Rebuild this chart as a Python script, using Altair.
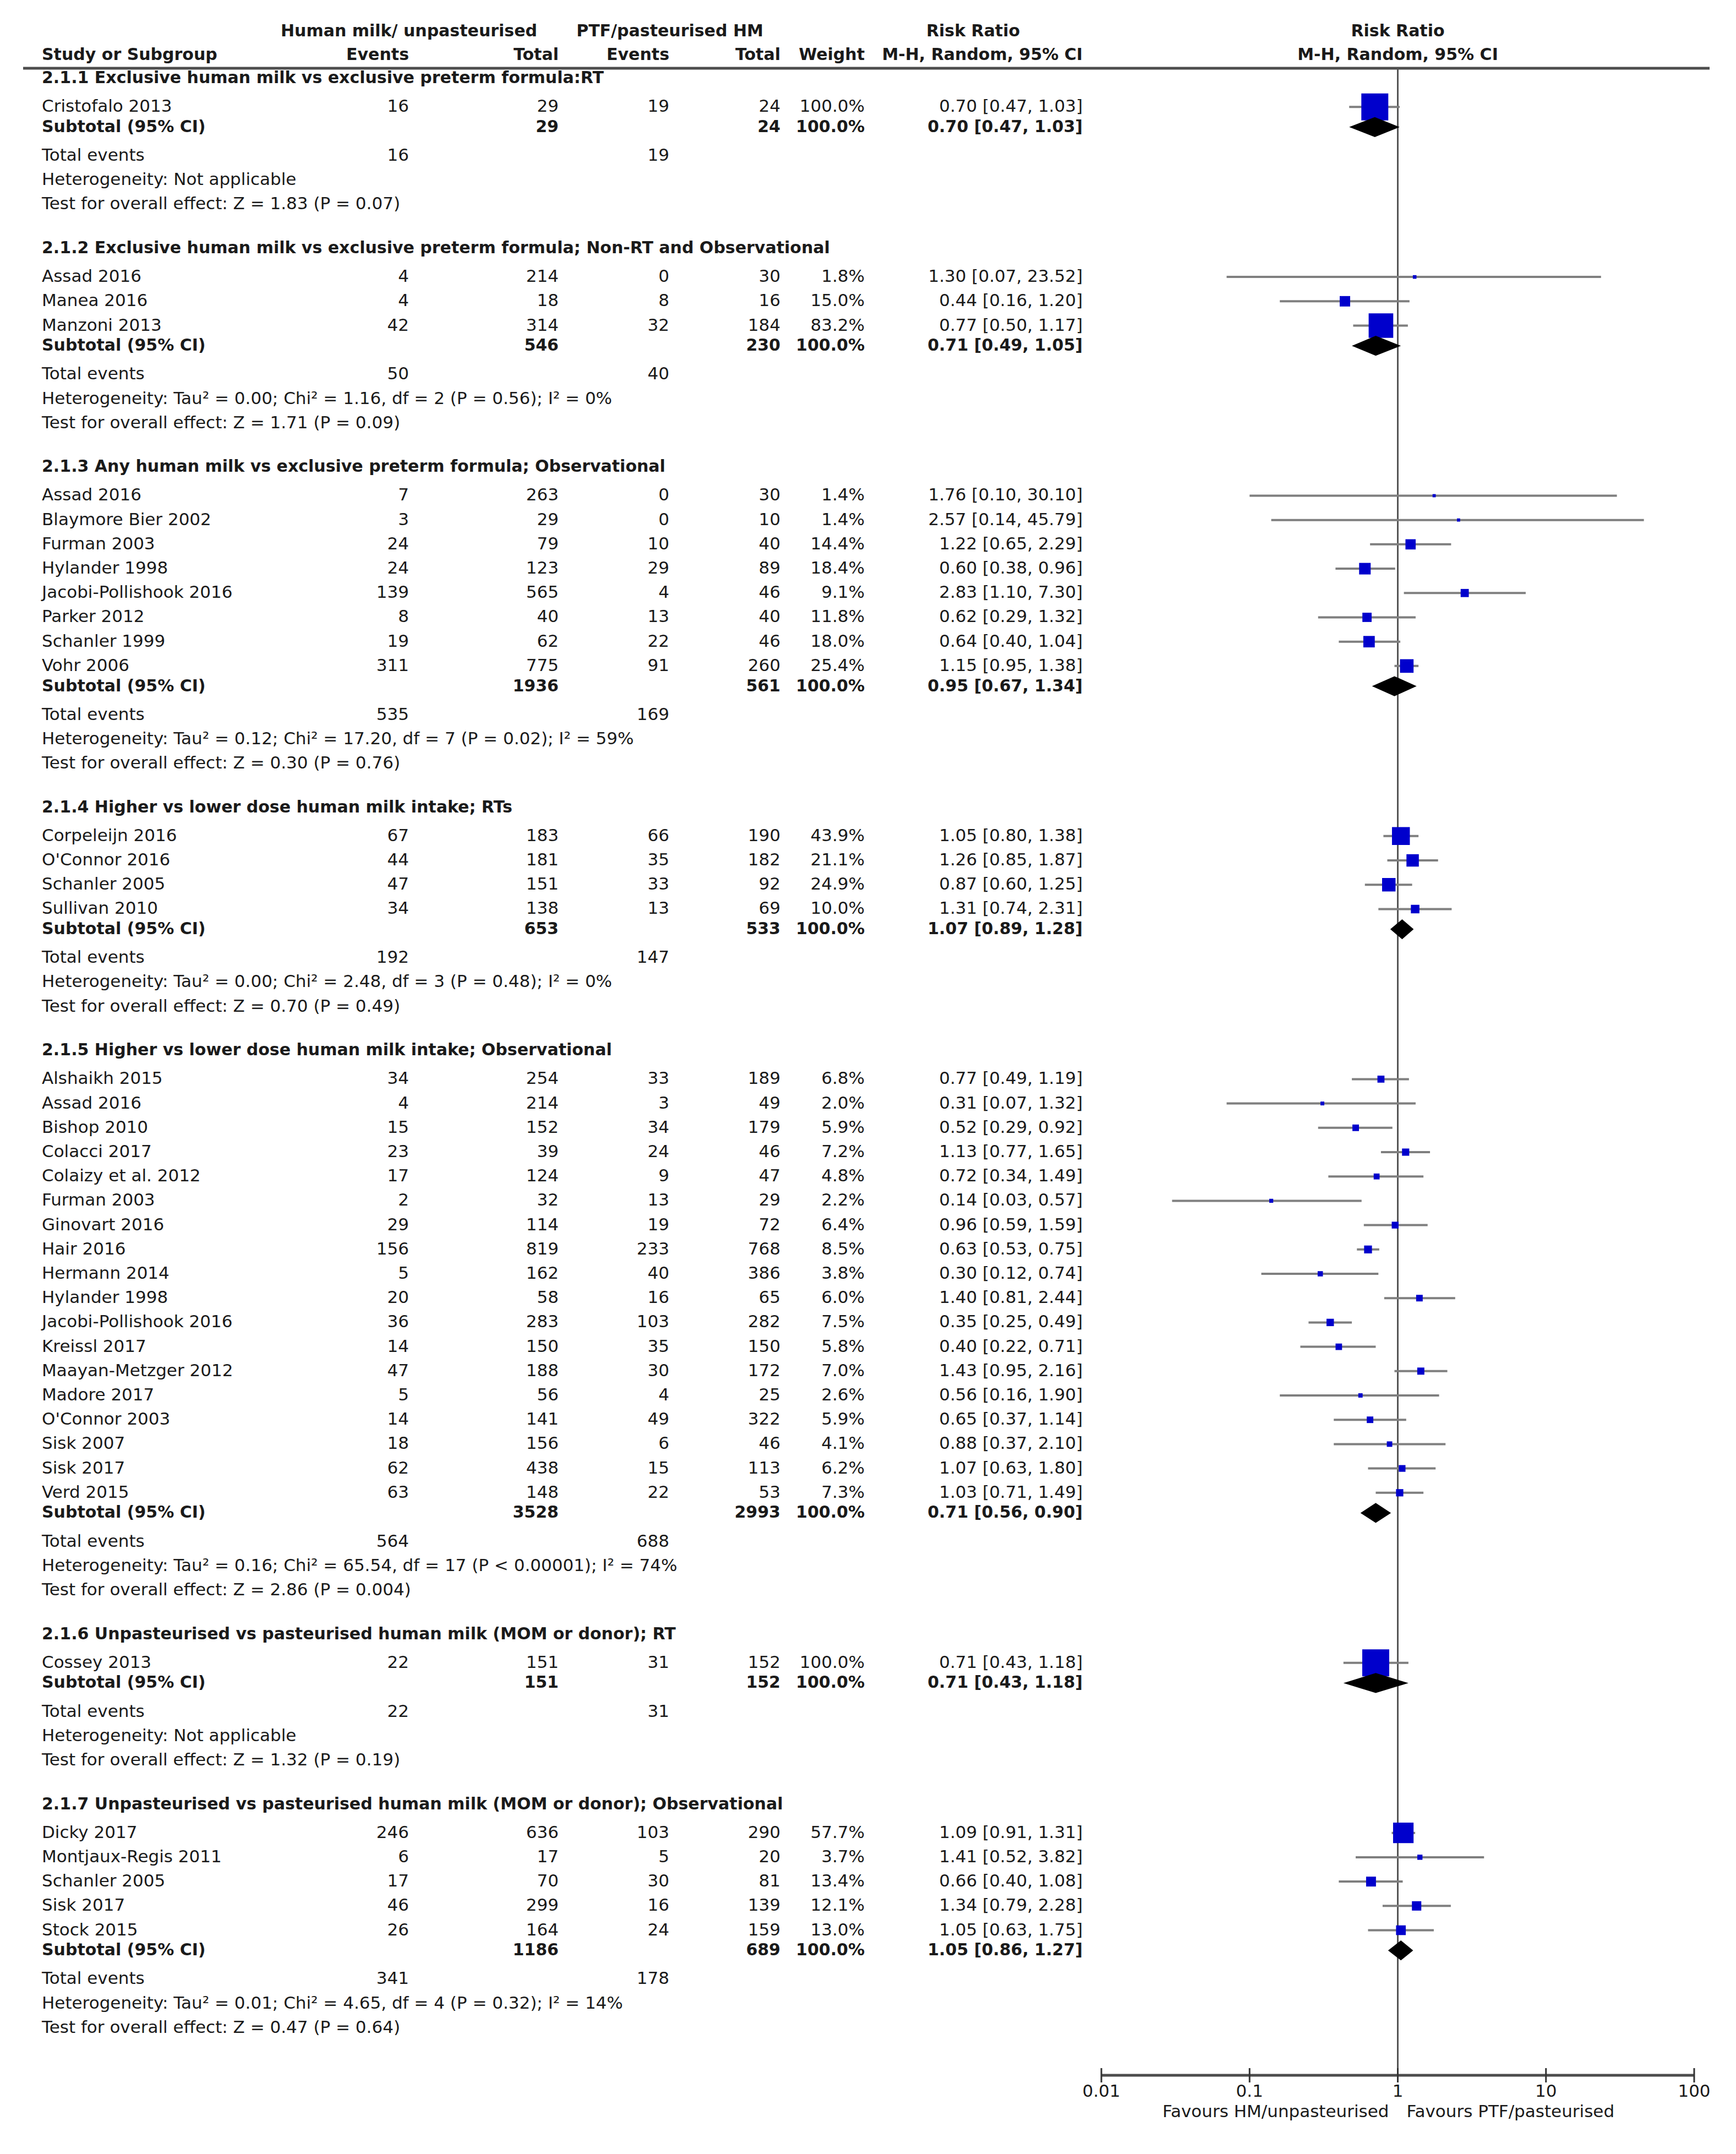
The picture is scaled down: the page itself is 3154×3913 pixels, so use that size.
import altair as alt
import pandas as pd

# ---------------- data ----------------
group_titles = [
    "2.1.1 Exclusive human milk vs exclusive preterm formula:RT",
    "2.1.2 Exclusive human milk vs exclusive preterm formula; Non-RT and Observational",
    "2.1.3 Any human milk vs exclusive preterm formula; Observational",
    "2.1.4 Higher vs lower dose human milk intake; RTs",
    "2.1.5 Higher vs lower dose human milk intake; Observational",
    "2.1.6 Unpasteurised vs pasteurised human milk (MOM or donor); RT",
    "2.1.7 Unpasteurised vs pasteurised human milk (MOM or donor); Observational",
]

study_group = [0,
               1, 1, 1,
               2, 2, 2, 2, 2, 2, 2, 2,
               3, 3, 3, 3,
               4, 4, 4, 4, 4, 4, 4, 4, 4, 4, 4, 4, 4, 4, 4, 4, 4, 4,
               5,
               6, 6, 6, 6, 6]
study_names = ["Cristofalo 2013",
               "Assad 2016", "Manea 2016", "Manzoni 2013",
               "Assad 2016", "Blaymore Bier 2002", "Furman 2003", "Hylander 1998",
               "Jacobi-Pollishook 2016", "Parker 2012", "Schanler 1999", "Vohr 2006",
               "Corpeleijn 2016", "O'Connor 2016", "Schanler 2005", "Sullivan 2010",
               "Alshaikh 2015", "Assad 2016", "Bishop 2010", "Colacci 2017", "Colaizy et al. 2012",
               "Furman 2003", "Ginovart 2016", "Hair 2016", "Hermann 2014", "Hylander 1998",
               "Jacobi-Pollishook 2016", "Kreissl 2017", "Maayan-Metzger 2012", "Madore 2017",
               "O'Connor 2003", "Sisk 2007", "Sisk 2017", "Verd 2015",
               "Cossey 2013",
               "Dicky 2017", "Montjaux-Regis 2011", "Schanler 2005", "Sisk 2017", "Stock 2015"]
hm_events = [16, 4, 4, 42, 7, 3, 24, 24, 139, 8, 19, 311, 67, 44, 47, 34,
             34, 4, 15, 23, 17, 2, 29, 156, 5, 20, 36, 14, 47, 5, 14, 18, 62, 63,
             22, 246, 6, 17, 46, 26]
hm_total = [29, 214, 18, 314, 263, 29, 79, 123, 565, 40, 62, 775, 183, 181, 151, 138,
            254, 214, 152, 39, 124, 32, 114, 819, 162, 58, 283, 150, 188, 56, 141, 156, 438, 148,
            151, 636, 17, 70, 299, 164]
ptf_events = [19, 0, 8, 32, 0, 0, 10, 29, 4, 13, 22, 91, 66, 35, 33, 13,
              33, 3, 34, 24, 9, 13, 19, 233, 40, 16, 103, 35, 30, 4, 49, 6, 15, 22,
              31, 103, 5, 30, 16, 24]
ptf_total = [24, 30, 16, 184, 30, 10, 40, 89, 46, 40, 46, 260, 190, 182, 92, 69,
             189, 49, 179, 46, 47, 29, 72, 768, 386, 65, 282, 150, 172, 25, 322, 46, 113, 53,
             152, 290, 20, 81, 139, 159]
weights = [100.0, 1.8, 15.0, 83.2, 1.4, 1.4, 14.4, 18.4, 9.1, 11.8, 18.0, 25.4,
           43.9, 21.1, 24.9, 10.0,
           6.8, 2.0, 5.9, 7.2, 4.8, 2.2, 6.4, 8.5, 3.8, 6.0, 7.5, 5.8, 7.0, 2.6, 5.9, 4.1, 6.2, 7.3,
           100.0, 57.7, 3.7, 13.4, 12.1, 13.0]
rr = [0.70, 1.30, 0.44, 0.77, 1.76, 2.57, 1.22, 0.60, 2.83, 0.62, 0.64, 1.15,
      1.05, 1.26, 0.87, 1.31,
      0.77, 0.31, 0.52, 1.13, 0.72, 0.14, 0.96, 0.63, 0.30, 1.40, 0.35, 0.40, 1.43, 0.56, 0.65, 0.88, 1.07, 1.03,
      0.71, 1.09, 1.41, 0.66, 1.34, 1.05]
rr_lo = [0.47, 0.07, 0.16, 0.50, 0.10, 0.14, 0.65, 0.38, 1.10, 0.29, 0.40, 0.95,
         0.80, 0.85, 0.60, 0.74,
         0.49, 0.07, 0.29, 0.77, 0.34, 0.03, 0.59, 0.53, 0.12, 0.81, 0.25, 0.22, 0.95, 0.16, 0.37, 0.37, 0.63, 0.71,
         0.43, 0.91, 0.52, 0.40, 0.79, 0.63]
rr_hi = [1.03, 23.52, 1.20, 1.17, 30.10, 45.79, 2.29, 0.96, 7.30, 1.32, 1.04, 1.38,
         1.38, 1.87, 1.25, 2.31,
         1.19, 1.32, 0.92, 1.65, 1.49, 0.57, 1.59, 0.75, 0.74, 2.44, 0.49, 0.71, 2.16, 1.90, 1.14, 2.10, 1.80, 1.49,
         1.18, 1.31, 3.82, 1.08, 2.28, 1.75]

sub_hm_total = [29, 546, 1936, 653, 3528, 151, 1186]
sub_ptf_total = [24, 230, 561, 533, 2993, 152, 689]
sub_rr = [0.70, 0.71, 0.95, 1.07, 0.71, 0.71, 1.05]
sub_lo = [0.47, 0.49, 0.67, 0.89, 0.56, 0.43, 0.86]
sub_hi = [1.03, 1.05, 1.34, 1.28, 0.90, 1.18, 1.27]
tot_hm_events = [16, 50, 535, 192, 564, 22, 341]
tot_ptf_events = [19, 40, 169, 147, 688, 31, 178]
heterogeneity = [
    "Heterogeneity: Not applicable",
    "Heterogeneity: Tau² = 0.00; Chi² = 1.16, df = 2 (P = 0.56); I² = 0%",
    "Heterogeneity: Tau² = 0.12; Chi² = 17.20, df = 7 (P = 0.02); I² = 59%",
    "Heterogeneity: Tau² = 0.00; Chi² = 2.48, df = 3 (P = 0.48); I² = 0%",
    "Heterogeneity: Tau² = 0.16; Chi² = 65.54, df = 17 (P < 0.00001); I² = 74%",
    "Heterogeneity: Not applicable",
    "Heterogeneity: Tau² = 0.01; Chi² = 4.65, df = 4 (P = 0.32); I² = 14%",
]
overall_test = [
    "Test for overall effect: Z = 1.83 (P = 0.07)",
    "Test for overall effect: Z = 1.71 (P = 0.09)",
    "Test for overall effect: Z = 0.30 (P = 0.76)",
    "Test for overall effect: Z = 0.70 (P = 0.49)",
    "Test for overall effect: Z = 2.86 (P = 0.004)",
    "Test for overall effect: Z = 1.32 (P = 0.19)",
    "Test for overall effect: Z = 0.47 (P = 0.64)",
]
axis_ticks = [0.01, 0.1, 1, 10, 100]
axis_tick_labels = ["0.01", "0.1", "1", "10", "100"]

# ---------------- layout (row units) ----------------
rows = []
studies = []
subtotals = []
u = 0.0
for g, title in enumerate(group_titles):
    rows.append(dict(u=u, bold=True, name=title))
    idx = [i for i, sg in enumerate(study_group) if sg == g]
    u += 1.18
    for k, i in enumerate(idx):
        if k > 0:
            u += 1.0
        rows.append(dict(u=u, bold=False, name=study_names[i], he=str(hm_events[i]),
                         ht=str(hm_total[i]), pe=str(ptf_events[i]), pt=str(ptf_total[i]),
                         w=f"{weights[i]:.1f}%",
                         rr=f"{rr[i]:.2f} [{rr_lo[i]:.2f}, {rr_hi[i]:.2f}]"))
        studies.append(dict(u=u, rr=rr[i], lo=rr_lo[i], hi=rr_hi[i], w=weights[i]))
    u += 0.83
    rows.append(dict(u=u, bold=True, name="Subtotal (95% CI)", ht=str(sub_hm_total[g]),
                     pt=str(sub_ptf_total[g]), w="100.0%",
                     rr=f"{sub_rr[g]:.2f} [{sub_lo[g]:.2f}, {sub_hi[g]:.2f}]"))
    subtotals.append((u, g))
    u += 1.18
    rows.append(dict(u=u, bold=False, name="Total events", he=str(tot_hm_events[g]),
                     pe=str(tot_ptf_events[g])))
    u += 1.0
    rows.append(dict(u=u, bold=False, name=heterogeneity[g]))
    u += 1.0
    rows.append(dict(u=u, bold=False, name=overall_test[g]))
    u += 1.8

rows_df = pd.DataFrame(rows).fillna("")
studies_df = pd.DataFrame(studies)

H = 0.41
diam = []
for (uc, g) in subtotals:
    diam.append(dict(g=g, x=sub_lo[g], top=uc, bot=uc))
    diam.append(dict(g=g, x=sub_rr[g], top=uc - H, bot=uc + H))
    diam.append(dict(g=g, x=sub_hi[g], top=uc, bot=uc))
diam_df = pd.DataFrame(diam)

ticks_df = pd.DataFrame(dict(t=axis_ticks, lab=axis_tick_labels))

# ---------------- styling ----------------
FONT = "DejaVu Sans"
FS_B = 30
FS_R = 31
TXT = "#1a1a1a"
W, Hh = 3138, 3897
UNIT = 44.2
Y0 = 134
xsc = alt.Scale(type="log", domain=[0.01, 100], range=[1993, 3070])
ysc = alt.Scale(domain=[0, 100], range=[Y0, Y0 + 100 * UNIT])
AXIS_Y = 3762

cols = [("name", 68, "left"), ("he", 735, "right"), ("ht", 1007, "right"),
        ("pe", 1208, "right"), ("pt", 1410, "right"), ("w", 1563, "right"),
        ("rr", 1959, "right")]

layers = []
for bold in [False, True]:
    base = alt.Chart(rows_df[rows_df.bold == bold])
    for col, xp, al in cols:
        layers.append(
            base.mark_text(align=al, baseline="middle", font=FONT,
                           fontSize=FS_B if bold else FS_R,
                           fontWeight="bold" if bold else "normal", color=TXT)
            .encode(x=alt.value(xp), y=alt.Y("u:Q", scale=ysc, axis=None),
                    text=alt.Text(f"{col}:N"))
        )

# column headers
hdr = pd.DataFrame([
    dict(t="Human milk/ unpasteurised", x=735, y=49, a="center"),
    dict(t="PTF/pasteurised HM", x=1209, y=49, a="center"),
    dict(t="Risk Ratio", x=1760, y=49, a="center"),
    dict(t="Study or Subgroup", x=68, y=92, a="left"),
    dict(t="Events", x=735, y=92, a="right"),
    dict(t="Total", x=1007, y=92, a="right"),
    dict(t="Events", x=1208, y=92, a="right"),
    dict(t="Total", x=1410, y=92, a="right"),
    dict(t="Weight", x=1563, y=92, a="right"),
    dict(t="M-H, Random, 95% CI", x=1959, y=92, a="right"),
])
for a in ["left", "center", "right"]:
    layers.append(
        alt.Chart(hdr[hdr.a == a]).mark_text(align=a, baseline="middle", font=FONT, fontSize=FS_B,
                                             fontWeight="bold", color=TXT)
        .encode(x=alt.X("x:Q", scale=None), y=alt.Y("y:Q", scale=None), text="t:N")
    )
forest_hdr = pd.DataFrame(dict(t=["Risk Ratio", "M-H, Random, 95% CI"], y=[49, 92], one=[1, 1]))
layers.append(
    alt.Chart(forest_hdr).mark_text(align="center", baseline="middle", font=FONT, fontSize=FS_B,
                                    fontWeight="bold", color=TXT)
    .encode(x=alt.X("one:Q", scale=xsc, axis=None), y=alt.Y("y:Q", scale=None), text="t:N")
)

# header line
layers.append(
    alt.Chart(pd.DataFrame({"a": [0]})).mark_rule(color="#4d4d4d", strokeWidth=5)
    .encode(x=alt.value(34), x2=alt.value(3098), y=alt.value(116))
)
# line of no effect
layers.append(
    alt.Chart(pd.DataFrame({"a": [0]})).mark_rule(color="#555555", strokeWidth=3)
    .encode(x=alt.datum(1, scale=xsc, axis=None), y=alt.value(116), y2=alt.value(AXIS_Y))
)
# CI lines
layers.append(
    alt.Chart(studies_df).mark_rule(color="#7f7f7f", strokeWidth=4)
    .encode(x=alt.X("lo:Q", scale=xsc, axis=None), x2="hi:Q",
            y=alt.Y("u:Q", scale=ysc, axis=None))
)
# squares
layers.append(
    alt.Chart(studies_df).mark_square(color="#0000cc", opacity=1, filled=True)
    .encode(x=alt.X("rr:Q", scale=xsc, axis=None), y=alt.Y("u:Q", scale=ysc, axis=None),
            size=alt.Size("w:Q", scale=alt.Scale(domain=[0, 100], range=[0, 2400]), legend=None))
)
# diamonds
layers.append(
    alt.Chart(diam_df).mark_area(color="black", opacity=1, interpolate="linear", orient="vertical")
    .encode(x=alt.X("x:Q", scale=xsc, axis=None),
            y=alt.Y("top:Q", scale=ysc, axis=None, stack=None),
            y2="bot:Q", detail="g:N")
)
# bottom axis
layers.append(
    alt.Chart(pd.DataFrame(dict(a=[0.01], b=[100]))).mark_rule(color="#4d4d4d", strokeWidth=5)
    .encode(x=alt.X("a:Q", scale=xsc, axis=None), x2="b:Q", y=alt.value(AXIS_Y))
)
layers.append(
    alt.Chart(ticks_df).mark_rule(color="#333333", strokeWidth=3)
    .encode(x=alt.X("t:Q", scale=xsc, axis=None), y=alt.value(AXIS_Y - 13), y2=alt.value(AXIS_Y + 13))
)
layers.append(
    alt.Chart(ticks_df).mark_text(align="center", baseline="middle", font=FONT, fontSize=FS_R, color=TXT)
    .encode(x=alt.X("t:Q", scale=xsc, axis=None), y=alt.value(AXIS_Y + 30), text="lab:N")
)
fav = pd.DataFrame(dict(t=["Favours HM/unpasteurised", "Favours PTF/pasteurised"], one=[1, 1],
                        a=["right", "left"]))
layers.append(
    alt.Chart(fav[fav.a == "right"]).mark_text(align="right", baseline="middle", font=FONT,
                                               fontSize=FS_R, color=TXT, dx=-16)
    .encode(x=alt.X("one:Q", scale=xsc, axis=None), y=alt.value(AXIS_Y + 67), text="t:N")
)
layers.append(
    alt.Chart(fav[fav.a == "left"]).mark_text(align="left", baseline="middle", font=FONT,
                                              fontSize=FS_R, color=TXT, dx=16)
    .encode(x=alt.X("one:Q", scale=xsc, axis=None), y=alt.value(AXIS_Y + 67), text="t:N")
)

chart = (
    alt.layer(*layers)
    .properties(width=W, height=Hh, autosize=alt.AutoSizeParams(type="none"), padding=0,
                background="white")
    .configure_view(stroke=None)
)
chart.save("out.html", embed_options={"renderer": "svg", "actions": False})
